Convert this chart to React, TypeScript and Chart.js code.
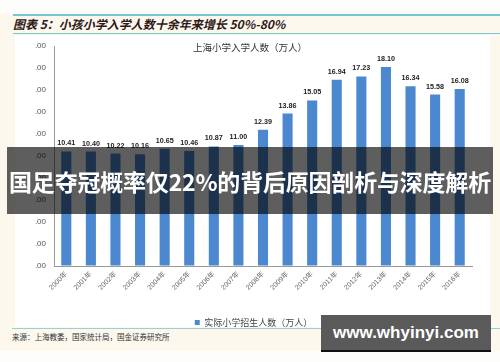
import { useEffect, useRef } from "react";
import { Chart, registerables } from "chart.js";

Chart.register(...registerables);

const years = [
  "2000年", "2001年", "2002年", "2003年", "2004年", "2005年", "2006年", "2007年", "2008年",
  "2009年", "2010年", "2011年", "2012年", "2013年", "2014年", "2015年", "2016年",
];
const enrolment = [
  10.41, 10.4, 10.22, 10.16, 10.65, 10.46, 10.87, 11.0, 12.39,
  13.86, 15.05, 16.94, 17.23, 18.1, 16.34, 15.58, 16.08,
];
const yMin = 0;
const yMax = 20;
const yStep = 2;

const figureTitle = "图表 5：小孩小学入学人数十余年来增长 50%-80%";
const chartTitle = "上海小学入学人数（万人）";
const seriesLabel = "实际小学招生人数（万人）";
const sourceText = "来源：上海教委，国家统计局，国金证券研究所";
const bannerText = "国足夺冠概率仅22%的背后原因剖析与深度解析";
const watermarkText = "www.whyinyi.com";

const LATIN = '"Liberation Sans", Arial, "Noto Sans CJK SC", sans-serif';
const CJK = '"Noto Sans CJK SC", "Liberation Sans", sans-serif';
const BAR_COLOR = "#4c88cf";

const overlayPlugin = {
  id: "overlayText",
  afterDatasetsDraw(chart: any) {
    const ctx = chart.ctx;
    const meta = chart.getDatasetMeta(0);
    ctx.save();
    ctx.font = `bold 7.2px ${LATIN}`;
    ctx.fillStyle = "#222";
    ctx.textAlign = "center";
    ctx.textBaseline = "alphabetic";
    meta.data.forEach((bar: any, i: number) => {
      ctx.fillText(enrolment[i].toFixed(2), bar.x, bar.y - 6);
    });
    ctx.font = `9.5px ${CJK}`;
    ctx.fillStyle = "#333";
    ctx.textBaseline = "middle";
    ctx.fillText(chartTitle, 250, 47);
    ctx.restore();
  },
};

export default function App() {
  const canvasRef = useRef<HTMLCanvasElement | null>(null);

  useEffect(() => {
    if (!canvasRef.current) return;
    const chart = new Chart(canvasRef.current, {
      type: "bar",
      data: {
        labels: years,
        datasets: [
          {
            label: seriesLabel,
            data: enrolment,
            backgroundColor: BAR_COLOR,
            borderWidth: 0,
            barPercentage: 0.41,
            categoryPercentage: 1,
          },
        ],
      },
      options: {
        responsive: false,
        animation: false,
        maintainAspectRatio: false,
        layout: { padding: { top: 46, left: 35, right: 28, bottom: 25 } },
        plugins: {
          title: { display: false },
          tooltip: { enabled: false },
          legend: {
            display: true,
            position: "bottom",
            labels: {
              boxWidth: 5,
              boxHeight: 5,
              padding: 5,
              color: "#444",
              font: { size: 9, family: CJK },
            },
          },
        },
        scales: {
          x: {
            type: "category",
            grid: { drawOnChartArea: false, drawTicks: false },
            border: { display: true, color: "#999", width: 1 },
            ticks: {
              maxRotation: 45,
              minRotation: 45,
              padding: 4,
              color: "#666",
              font: { size: 7, family: LATIN },
            },
            afterFit: (scale: any) => {
              scale.height = 47;
            },
          },
          y: {
            min: yMin,
            max: yMax,
            grid: { drawOnChartArea: false, drawTicks: false },
            border: { display: true, color: "#999", width: 1 },
            ticks: {
              stepSize: yStep,
              padding: 8,
              color: "#555",
              font: { size: 8, family: LATIN },
              callback: (v: any) => Number(v).toFixed(2),
            },
            afterFit: (scale: any) => {
              scale.width = 19;
            },
          },
        },
      },
      plugins: [overlayPlugin],
    });
    return () => chart.destroy();
  }, []);

  return (
    <div
      style={{
        position: "fixed",
        left: 0,
        top: 0,
        width: 500,
        height: 362,
        background: "#fdfdfc",
        overflow: "hidden",
      }}
    >
      <div style={{ position: "absolute", left: 0, top: 13, width: 500, height: 338, background: "#fcf8ee" }} />
      <div style={{ position: "absolute", left: 15, top: 36, width: 475, height: 291, background: "#ffffff" }} />
      <div style={{ position: "absolute", left: 13, top: 14, width: 487, height: 1.5, background: "#79c6cf" }} />
      <div style={{ position: "absolute", left: 13, top: 32.5, width: 487, height: 1.5, background: "#79c6cf" }} />
      <div style={{ position: "absolute", left: 12, top: 327.5, width: 488, height: 1.5, background: "#93d2d9" }} />
      <div
        style={{
          position: "absolute",
          left: 13,
          top: 16,
          height: 16,
          lineHeight: "16px",
          fontFamily: CJK,
          fontSize: 12,
          fontWeight: "bold",
          fontStyle: "italic",
          color: "#2e1818",
          whiteSpace: "nowrap",
        }}
      >
        {figureTitle}
      </div>
      <div
        style={{
          position: "absolute",
          left: 12,
          top: 331,
          height: 12,
          lineHeight: "12px",
          fontFamily: CJK,
          fontSize: 7.5,
          color: "#333",
          whiteSpace: "nowrap",
        }}
      >
        {sourceText}
      </div>
      <canvas
        ref={canvasRef}
        width={500}
        height={362}
        style={{ position: "absolute", left: 0, top: 0, width: 500, height: 362 }}
      />
      <div
        style={{
          position: "absolute",
          left: 7,
          top: 147,
          width: 486,
          height: 67,
          background: "rgba(0,0,0,0.63)",
          color: "#fff",
          fontFamily: CJK,
          fontWeight: "bold",
          fontSize: 23,
          letterSpacing: -0.2,
          display: "flex",
          alignItems: "center",
          justifyContent: "center",
          whiteSpace: "nowrap",
        }}
      >
        {bannerText}
      </div>
      <div
        style={{
          position: "absolute",
          left: 321,
          top: 315,
          width: 170,
          height: 35,
          background: "#5a5a5a",
          borderBottom: "2px solid #111",
          color: "#fff",
          fontFamily: LATIN,
          fontWeight: "bold",
          fontSize: 17,
          display: "flex",
          alignItems: "center",
          justifyContent: "center",
          whiteSpace: "nowrap",
        }}
      >
        {watermarkText}
      </div>
    </div>
  );
}
